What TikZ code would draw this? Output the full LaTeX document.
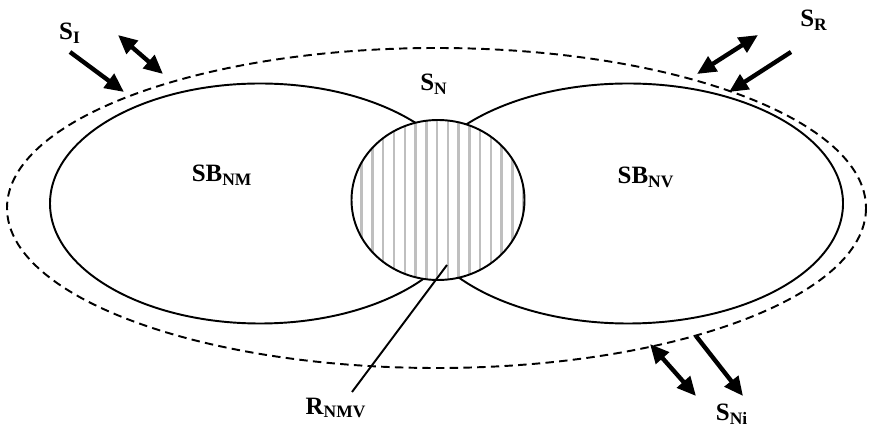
\documentclass[tikz,border=0pt]{standalone}
\usepackage{fontspec}
\setmainfont{Liberation Serif}
\usetikzlibrary{arrows.meta}

\begin{document}
\begin{tikzpicture}[x=0.02cm, y=-0.02cm,
  lbl/.style={font=\fontsize{14.2}{16}\selectfont\bfseries, inner sep=0pt},
  bound/.style={line width=1.1pt},
  outer/.style={line width=1.1pt, dash pattern=on 4.8pt off 3pt},
  flow/.style={line width=2.5pt, -{Triangle[length=3.8mm,width=3.4mm]}},
  flowtwo/.style={line width=2.5pt, {Triangle[length=3.8mm,width=3.4mm]}-{Triangle[length=3.8mm,width=3.4mm]}},
  hatch/.style={gray!50, line width=1.4pt},
]
\useasboundingbox (0,0) rectangle (871,428);

% system boundaries
\draw[outer] (436.5,208) ellipse [x radius=429.5, y radius=160];
\draw[bound] (260,203.5) ellipse [x radius=210, y radius=120];
\draw[bound] (628,203.5) ellipse [x radius=215, y radius=120];

% shared region
\coordinate (rc) at (438,200);
\begin{scope}
  \clip (rc) ellipse [x radius=86.5, y radius=80];
  \fill[white] (rc) ellipse [x radius=86.5, y radius=80];
  \foreach \i in {0,...,15}
    \draw[hatch] (361.7+10.77*\i,115) -- ++(0,170);
\end{scope}
\draw[bound] (rc) ellipse [x radius=86.5, y radius=80];

\node[lbl] (sn)   at (434,84)  {S\textsubscript{N}};
\node[lbl] (sbnm) at (222,175) {SB\textsubscript{NM}};
\node[lbl] (sbnv) at (646,177) {SB\textsubscript{NV}};
\node[lbl] (si)   at (70,33)   {S\textsubscript{I}};
\node[lbl] (sr)   at (814,20)  {S\textsubscript{R}};
\node[lbl] (sni)  at (732,414) {S\textsubscript{Ni}};
\node[lbl] (rnmv) at (336,408) {R\textsubscript{NMV}};

\coordinate (rp) at (447,265);
\coordinate (rq) at (352,392);
\draw[bound] (rp) -- (rq);

% exchanges across the boundary
\coordinate (si1) at (70,52);   \coordinate (si2) at (124,92);
\coordinate (si3) at (118,35);  \coordinate (si4) at (163,74);
\coordinate (sr1) at (758,35);  \coordinate (sr2) at (697,74);
\coordinate (sr3) at (791,52);  \coordinate (sr4) at (729,92);
\coordinate (sn1) at (650,344); \coordinate (sn2) at (696,396);
\coordinate (sn3) at (696,336); \coordinate (sn4) at (743,396);

\draw[flow] (si1) -- (si2);
\draw[flowtwo] (si3) -- (si4);
\draw[flowtwo] (sr1) -- (sr2);
\draw[flow] (sr3) -- (sr4);
\draw[flowtwo] (sn1) -- (sn2);
\draw[flow] (sn3) -- (sn4);

\end{tikzpicture}
\end{document}
